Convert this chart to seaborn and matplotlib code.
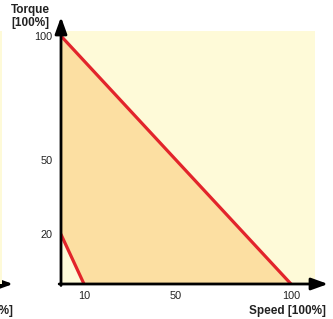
import matplotlib
matplotlib.use("Agg")
import matplotlib.pyplot as plt
from matplotlib.patches import Rectangle
import seaborn as sns
import pandas as pd

# ---- data ----
speed_big = [0, 100]
torque_big = [100, 0]
speed_small = [0, 10]
torque_small = [20, 0]
x_ticks = [10, 50, 100]
y_ticks = [20, 50, 100]
x_label = "Speed [100%]"
y_label = "Torque\n[100%]"

# ---- style ----
sns.set_theme(style="white")
plt.rcParams['font.family'] = ['Liberation Sans', 'DejaVu Sans']

RED = "#E2242B"
ORANGE = "#FCDFA2"
YELLOW = "#FEFAD8"
TXT = "#222222"

W, H = 333, 319
fig = plt.figure(figsize=(W / 100, H / 100), dpi=100)
fig.patch.set_facecolor("white")

x0_px, y0_px = 61, 284
sx, sy = 2.30, 2.48
ax = fig.add_axes([x0_px / W, (H - y0_px) / H, (W - x0_px) / W, y0_px / H])
ax.set_xlim(0, (W - x0_px) / sx)
ax.set_ylim(0, y0_px / sy)
ax.patch.set_alpha(0)
for s in ax.spines.values():
    s.set_visible(False)

# background
ax.add_patch(Rectangle((0, 0), 110.4, 102, facecolor=YELLOW, edgecolor="none", zorder=0))

# orange region between the two lines
poly_x = speed_big + speed_small[::-1]
poly_y = torque_big + torque_small[::-1]
ax.fill(poly_x, poly_y, color=ORANGE, lw=0, zorder=1)

df_big = pd.DataFrame({"speed": speed_big, "torque": torque_big})
df_small = pd.DataFrame({"speed": speed_small, "torque": torque_small})
sns.lineplot(data=df_big, x="speed", y="torque", ax=ax, color=RED, lw=2.3, zorder=3)
sns.lineplot(data=df_small, x="speed", y="torque", ax=ax, color=RED, lw=2.3, zorder=3)

# axes with arrows
arrow = dict(arrowstyle="-|>,head_length=0.5,head_width=0.18", color="black",
             lw=2.0, mutation_scale=20, shrinkA=0, shrinkB=0)
ax.annotate("", xy=(0, (y0_px - 17) / sy), xytext=(0, -0.6), arrowprops=arrow,
            annotation_clip=False, zorder=5)
ax.annotate("", xy=((328 - x0_px) / sx, 0), xytext=(-0.8, 0), arrowprops=arrow,
            annotation_clip=False, zorder=5)

ax.set_xticks(x_ticks)
ax.set_yticks(y_ticks)
ax.set_xticklabels([str(v) for v in x_ticks])
ax.set_yticklabels([str(v) for v in y_ticks])
ax.tick_params(axis="both", length=0, labelsize=7.8, labelcolor=TXT)
ax.tick_params(axis="x", pad=5)
ax.tick_params(axis="y", pad=6)
ax.set_xlabel("")
ax.set_ylabel("")

fig.text(326 / W, (H - 311) / H, x_label, ha="right", va="center",
         fontsize=8.5, fontweight="bold", color=TXT)
fig.text(30 / W, (H - 16.5) / H, y_label, ha="center", va="center",
         fontsize=8.5, fontweight="bold", color=TXT, linespacing=1.05)

# fragment of the neighbouring chart at the left edge
fig.add_artist(Rectangle((0, (H - 284) / H), 2 / W, (284 - 31) / H,
                         transform=fig.transFigure, facecolor=YELLOW, edgecolor="none"))
ax.annotate("", xy=(13, H - 284), xytext=(-20, H - 284), xycoords="figure pixels",
            textcoords="figure pixels", arrowprops=arrow, annotation_clip=False)
fig.text(12.5 / W, (H - 311) / H, x_label, ha="right", va="center",
         fontsize=8.5, fontweight="bold", color=TXT)

fig.savefig("out.png", dpi=100)
